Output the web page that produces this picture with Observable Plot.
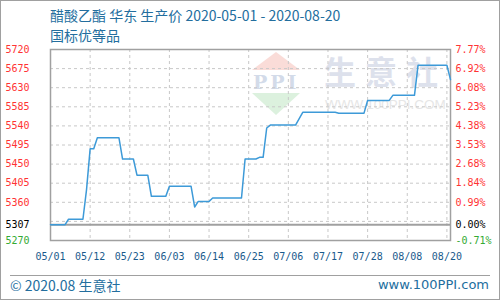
<!DOCTYPE html>
<html><head><meta charset="utf-8">
<script src="https://cdn.jsdelivr.net/npm/d3@7"></script>
<script src="https://cdn.jsdelivr.net/npm/@observablehq/plot@0.6"></script>
<style>
body{margin:0;background:#fff;}
#wrap{position:relative;width:500px;height:300px;overflow:hidden;background:#fff;font-family:"Noto Sans CJK SC","Noto Sans",sans-serif;}
#border{position:absolute;left:0;top:0;width:500px;height:300px;box-sizing:border-box;border:1px solid #a0a0a0;z-index:10;}
.abs{position:absolute;white-space:nowrap;}
#chart{position:absolute;left:0;top:0;z-index:2;}
.t{color:#236e9e;font-size:14px;line-height:16px;}
.wm{z-index:1;}
</style></head><body>
<div id="wrap">
  <div class="abs wm" style="left:252px;top:52px;width:0;height:0;border-left:24px solid transparent;border-right:24px solid transparent;border-bottom:18px solid #fadcd8;"></div>
  <div class="abs wm" style="left:252px;top:93px;width:0;height:0;border-left:24px solid transparent;border-right:24px solid transparent;border-top:22px solid #dcf1de;"></div>
  <div class="abs wm" style="left:253px;top:72px;font-family:'DejaVu Serif',serif;font-weight:bold;font-size:19px;line-height:20px;color:#d3dbe9;letter-spacing:3px;">PPI</div>
  <div class="abs wm" style="left:324px;top:50px;font-size:32px;line-height:40px;font-weight:bold;color:#dde1ec;letter-spacing:9px;">生意社</div>
  <div class="abs wm" style="left:325px;top:97px;font-family:'Liberation Sans',sans-serif;font-size:13.5px;line-height:16px;color:#e6e6e6;">WWW.100PPI.COM</div>
  <div id="chart"></div>
  <div class="abs t" style="left:50px;top:7px;">醋酸乙酯 华东 生产价 2020-05-01 - 2020-08-20</div>
  <div class="abs t" style="left:50px;top:27px;">国标优等品</div>
  <div class="abs" style="left:10px;top:275px;width:480px;height:0;border-top:1px solid #a0a0a0;"></div>
  <div class="abs t" style="left:10px;top:277px;">© 2020.08 生意社</div>
  <div class="abs t" style="right:11px;top:277px;font-family:'DejaVu Sans',sans-serif;font-size:13px;">www.100PPI.com</div>
  <div id="border"></div>
</div>
<script>
const dates = ["2020-05-01","2020-05-05","2020-05-06","2020-05-10","2020-05-11","2020-05-12","2020-05-13","2020-05-14","2020-05-20","2020-05-21","2020-05-24","2020-05-25","2020-05-28","2020-05-29","2020-06-02","2020-06-03","2020-06-09","2020-06-10","2020-06-11","2020-06-14","2020-06-15","2020-06-23","2020-06-24","2020-06-27","2020-06-28","2020-06-29","2020-06-30","2020-07-01","2020-07-08","2020-07-10","2020-07-19","2020-07-20","2020-07-27","2020-07-28","2020-08-03","2020-08-04","2020-08-10","2020-08-11","2020-08-19","2020-08-20"];
const prices = [5307,5307,5320,5320,5390,5486,5486,5512,5512,5462,5462,5424,5424,5374,5374,5398,5398,5349,5362,5362,5370,5370,5462,5462,5466,5466,5535,5542,5542,5572,5572,5570,5570,5600,5600,5612,5612,5683,5683,5649];
const basePrice = 5307;
const leftTickValues = [5720,5675,5630,5585,5540,5495,5450,5405,5360,5307,5270];
const leftTickLabels = ["5720","5675","5630","5585","5540","5495","5450","5405","5360","5307","5270"];
const rightTickLabels = ["7.77%","6.92%","6.08%","5.23%","4.38%","3.53%","2.68%","1.84%","0.99%","0.00%","-0.71%"];
const gridValues = [5315,5360,5405,5450,5495,5540,5585,5630,5675];
const xTickDates = ["2020-05-01","2020-05-12","2020-05-23","2020-06-03","2020-06-14","2020-06-25","2020-07-06","2020-07-17","2020-07-28","2020-08-08","2020-08-19"];
const xTickLabels = ["05/01","05/12","05/23","06/03","06/14","06/25","07/06","07/17","07/28","08/08","08/20"];

const parse = d3.utcParse("%Y-%m-%d");
const data = dates.map((d, i) => ({date: parse(d), value: prices[i]}));
const xt = xTickDates.map(parse);
const labelMap = new Map(xt.map((d, i) => [+d, xTickLabels[i]]));
const tickColor = v => v > basePrice ? "#ff3333" : v === basePrice ? "#000000" : "#33aa33";
const leftTicks = leftTickValues.map((v, i) => ({v, label: leftTickLabels[i], c: tickColor(v)}));
const rightTicks = leftTickValues.map((v, i) => ({v, label: rightTickLabels[i], c: tickColor(v)}));
const tickFont = "DejaVu Sans Mono";

const chart = Plot.plot({
  width: 500, height: 275,
  marginLeft: 50, marginRight: 50, marginTop: 49, marginBottom: 35,
  x: {type: "utc", domain: [parse("2020-05-01"), parse("2020-08-20")]},
  y: {domain: [5270, 5720], axis: null},
  color: {type: "identity"},
  style: {background: "transparent", overflow: "visible"},
  marks: [
    Plot.ruleY(gridValues, {stroke: "#c8c8c8", strokeDasharray: "3,3"}),
    Plot.ruleX(xt.slice(1), {stroke: "#c8c8c8", strokeDasharray: "3,3"}),
    Plot.ruleY([basePrice], {stroke: "#a0a0a0", strokeWidth: 2}),
    Plot.frame({stroke: "#a0a0a0", strokeWidth: 1.5}),
    Plot.line(data, {x: "date", y: "value", stroke: "#3d9ad8", strokeWidth: 1.5}),
    Plot.text(leftTicks, {y: "v", text: "label", fill: "c", frameAnchor: "left", dx: -45, textAnchor: "start", fontSize: 10, fontFamily: tickFont}),
    Plot.text(rightTicks, {y: "v", text: "label", fill: "c", frameAnchor: "right", dx: 5, textAnchor: "start", fontSize: 10, fontFamily: tickFont}),
    Plot.axisX({ticks: xt, tickFormat: d => labelMap.get(+d), tickSize: 0, tickPadding: 12, fill: "#1a5a8c", fontSize: 10, fontFamily: tickFont})
  ]
});
document.getElementById("chart").appendChild(chart);
</script>
</body></html>
